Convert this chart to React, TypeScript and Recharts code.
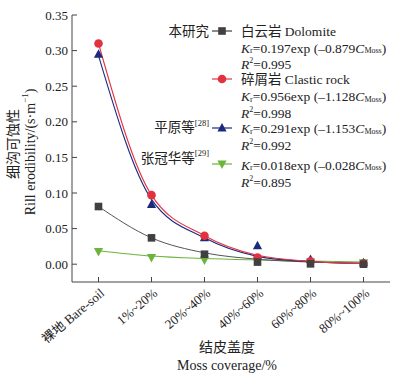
import React from 'react';
import { ComposedChart, Line, XAxis, YAxis } from 'recharts';

const categories = ['裸地 Bare-soil', '1%~20%', '20%~40%', '40%~60%', '60%~80%', '80%~100%'];
const dolomite = [0.081, 0.037, 0.014, 0.003, 0.0005, 0.0];
const clastic = [0.31, 0.097, 0.04, 0.0095, 0.004, 0.001];
const pingyuan = [0.295, 0.084, 0.037, 0.026, 0.0065, 0.002];
const zhang = [0.018, 0.0095, 0.006, 0.004, 0.003, 0.002];
const dolomiteFit = [0.081, 0.037, 0.016, 0.007, 0.003, 0.0015];
const clasticFit = [0.31, 0.097, 0.04, 0.0125, 0.004, 0.001];
const pingyuanFit = [0.293, 0.091, 0.037, 0.011, 0.0035, 0.001];
const zhangFit = [0.019, 0.0115, 0.008, 0.006, 0.0045, 0.003];
const yTicks = [0, 0.05, 0.1, 0.15, 0.2, 0.25, 0.3, 0.35];

const data = categories.map((c, i) => ({
  x: i,
  dolomite: dolomite[i],
  clastic: clastic[i],
  pingyuan: pingyuan[i],
  zhang: zhang[i],
  dolomiteFit: dolomiteFit[i],
  clasticFit: clasticFit[i],
  pingyuanFit: pingyuanFit[i],
  zhangFit: zhangFit[i],
}));

const FONT = '"Liberation Serif", "Times New Roman", "Noto Sans CJK SC", serif';
const C_GRAY = '#404040';
const C_RED = '#e3323f';
const C_BLUE = '#1c2a7e';
const C_GREEN = '#6cb43a';

const square = (color: string) => (p: any) => {
  if (p.cx == null || p.cy == null) return <g key={p.key ?? p.index} />;
  return <rect key={p.key ?? p.index} x={p.cx - 3.8} y={p.cy - 3.8} width={7.6} height={7.6} fill={color} />;
};
const circle = (color: string) => (p: any) => {
  if (p.cx == null || p.cy == null) return <g key={p.key ?? p.index} />;
  return <circle key={p.key ?? p.index} cx={p.cx} cy={p.cy} r={4.3} fill={color} />;
};
const triUp = (color: string) => (p: any) => {
  if (p.cx == null || p.cy == null) return <g key={p.key ?? p.index} />;
  const { cx, cy } = p;
  return <polygon key={p.key ?? p.index} points={`${cx},${cy - 5} ${cx - 4.6},${cy + 3.5} ${cx + 4.6},${cy + 3.5}`} fill={color} />;
};
const triDown = (color: string) => (p: any) => {
  if (p.cx == null || p.cy == null) return <g key={p.key ?? p.index} />;
  const { cx, cy } = p;
  return <polygon key={p.key ?? p.index} points={`${cx},${cy + 5} ${cx - 4.6},${cy - 3.5} ${cx + 4.6},${cy - 3.5}`} fill={color} />;
};

const YTick = (props: any) => {
  const { x, y, payload } = props;
  return (
    <g>
      <line x1={x + 4} y1={y} x2={x + 9} y2={y} stroke="#444" strokeWidth={1} />
      <text x={x} y={y} textAnchor="end" dominantBaseline="central" fontSize={13} fontFamily={FONT} fill="#222">
        {Number(payload.value).toFixed(2)}
      </text>
    </g>
  );
};

const XTick = (props: any) => {
  const { x, y, payload } = props;
  const label = categories[payload.value] ?? '';
  return (
    <g>
      <line x1={x} y1={y} x2={x} y2={y - 5} stroke="#444" strokeWidth={1} />
      <text
        x={x + 4}
        y={y + 9}
        textAnchor="end"
        dominantBaseline="central"
        fontSize={13}
        fontFamily={FONT}
        fill="#222"
        transform={`rotate(-40 ${x + 4} ${y + 9})`}
      >
        {label}
      </text>
    </g>
  );
};

const Kr = ({ x, y, a, b }: { x: number; y: number; a: string; b: string }) => (
  <text x={x} y={y} dominantBaseline="central" fontSize={13.5} fontFamily={FONT} fill="#222">
    <tspan fontStyle="italic">K</tspan>
    <tspan fontSize={8.5} dy={2.5}>r</tspan>
    <tspan dy={-2.5}>={a}exp (–{b}</tspan>
    <tspan fontStyle="italic">C</tspan>
    <tspan fontSize={8} dy={2.5}>Moss</tspan>
    <tspan dy={-2.5}>)</tspan>
  </text>
);

const R2 = ({ x, y, v }: { x: number; y: number; v: string }) => (
  <text x={x} y={y} dominantBaseline="central" fontSize={13.5} fontFamily={FONT} fill="#222">
    <tspan fontStyle="italic">R</tspan>
    <tspan fontSize={8} dy={-4}>2</tspan>
    <tspan dy={4}>={v}</tspan>
  </text>
);

const LegendMark = ({ y, color, kind }: { y: number; color: string; kind: string }) => {
  const cx = 222;
  let mark: React.ReactNode = null;
  if (kind === 'square') mark = <rect x={cx - 3.8} y={y - 3.8} width={7.6} height={7.6} fill={color} />;
  if (kind === 'circle') mark = <circle cx={cx} cy={y} r={4.3} fill={color} />;
  if (kind === 'up') mark = <polygon points={`${cx},${y - 5} ${cx - 4.6},${y + 3.5} ${cx + 4.6},${y + 3.5}`} fill={color} />;
  if (kind === 'down') mark = <polygon points={`${cx},${y + 5} ${cx - 4.6},${y - 3.5} ${cx + 4.6},${y - 3.5}`} fill={color} />;
  return (
    <g>
      <line x1={212} y1={y} x2={232} y2={y} stroke={color} strokeWidth={1.2} />
      {mark}
    </g>
  );
};

const Overlay = () => {
  const tx = 241;
  const lx = 209;
  const t = { fontSize: 13.5, fontFamily: FONT, fill: '#222', dominantBaseline: 'central' as const };
  return (
    <svg width={408} height={377} style={{ position: 'absolute', left: 0, top: 0, pointerEvents: 'none' }}>
      <text x={lx} y={31} textAnchor="end" {...t}>本研究</text>
      <LegendMark y={31} color={C_GRAY} kind="square" />
      <text x={tx} y={31} {...t}>白云岩 Dolomite</text>
      <Kr x={tx} y={47.5} a="0.197" b="0.879" />
      <R2 x={tx} y={64} v="0.995" />
      <LegendMark y={79} color={C_RED} kind="circle" />
      <text x={tx} y={79} {...t}>碎屑岩 Clastic rock</text>
      <Kr x={tx} y={96} a="0.956" b="1.128" />
      <R2 x={tx} y={112.5} v="0.998" />
      <text x={lx} y={127.5} textAnchor="end" {...t}>
        平原等<tspan fontSize={8.5} dy={-5}>[28]</tspan>
      </text>
      <LegendMark y={128} color={C_BLUE} kind="up" />
      <Kr x={tx} y={128} a="0.291" b="1.153" />
      <R2 x={tx} y={145} v="0.992" />
      <text x={lx} y={158} textAnchor="end" {...t}>
        张冠华等<tspan fontSize={8.5} dy={-5}>[29]</tspan>
      </text>
      <LegendMark y={164} color={C_GREEN} kind="down" />
      <Kr x={tx} y={164.5} a="0.018" b="0.028" />
      <R2 x={tx} y={181.5} v="0.895" />

      <text x={13} y={144} textAnchor="middle" dominantBaseline="central" fontSize={14} fontFamily={FONT} fill="#222" transform="rotate(-90 13 144)">
        细沟可蚀性
      </text>
      <text x={30} y={152} textAnchor="middle" dominantBaseline="central" fontSize={14} fontFamily={FONT} fill="#222" transform="rotate(-90 30 152)">
        Rill erodibility/(s·m<tspan fontSize={9} dy={-5}>−1</tspan><tspan dy={5}>)</tspan>
      </text>

      <text x={227} y={347} textAnchor="middle" dominantBaseline="central" fontSize={14} fontFamily={FONT} fill="#222">
        结皮盖度
      </text>
      <text x={227} y={365} textAnchor="middle" dominantBaseline="central" fontSize={14} fontFamily={FONT} fill="#222">
        Moss coverage/%
      </text>
    </svg>
  );
};

export default function App() {
  return (
    <div style={{ position: 'absolute', left: 0, top: 0, width: 408, height: 377, background: '#fff' }}>
      <ComposedChart width={408} height={377} data={data} margin={{ top: 15, right: 18, left: 0, bottom: 65 }}>
        <XAxis
          type="number"
          dataKey="x"
          domain={[-0.5, 5.5]}
          ticks={[0, 1, 2, 3, 4, 5]}
          height={30}
          tickSize={0}
          tickMargin={0}
          tick={<XTick />}
          axisLine={{ stroke: '#444', strokeWidth: 1 }}
          interval={0}
        />
        <YAxis
          type="number"
          domain={[-0.025, 0.35]}
          ticks={yTicks}
          width={72}
          tickSize={0}
          tickMargin={4}
          tick={<YTick />}
          axisLine={{ stroke: '#444', strokeWidth: 1 }}
          allowDataOverflow
          interval={0}
        />
        <Line type="monotone" dataKey="zhangFit" stroke={C_GREEN} strokeWidth={1.1} dot={false} activeDot={false} isAnimationActive={false} />
        <Line type="monotone" dataKey="dolomiteFit" stroke="#555" strokeWidth={1} dot={false} activeDot={false} isAnimationActive={false} />
        <Line type="monotone" dataKey="pingyuanFit" stroke={C_BLUE} strokeWidth={1.1} dot={false} activeDot={false} isAnimationActive={false} />
        <Line type="monotone" dataKey="clasticFit" stroke={C_RED} strokeWidth={1.1} dot={false} activeDot={false} isAnimationActive={false} />
        <Line dataKey="zhang" stroke="none" dot={triDown(C_GREEN)} activeDot={false} isAnimationActive={false} />
        <Line dataKey="pingyuan" stroke="none" dot={triUp(C_BLUE)} activeDot={false} isAnimationActive={false} />
        <Line dataKey="clastic" stroke="none" dot={circle(C_RED)} activeDot={false} isAnimationActive={false} />
        <Line dataKey="dolomite" stroke="none" dot={square(C_GRAY)} activeDot={false} isAnimationActive={false} />
      </ComposedChart>
      <Overlay />
    </div>
  );
}
